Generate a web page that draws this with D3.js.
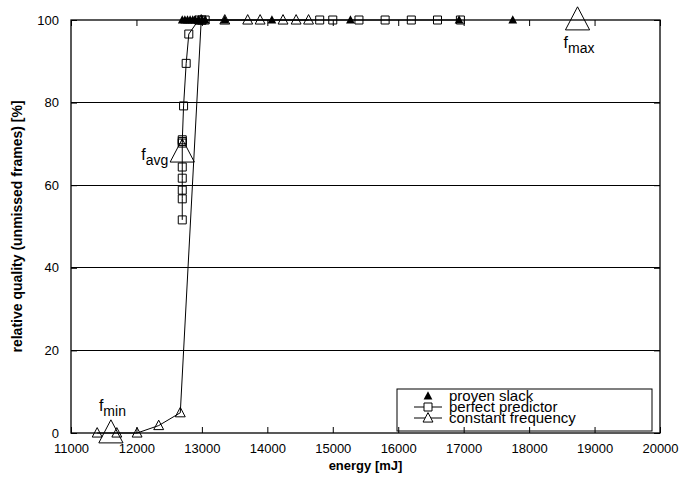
<!DOCTYPE html>
<html>
<head>
<meta charset="utf-8">
<script src="https://cdn.jsdelivr.net/npm/d3@7"></script>
<style>
  body { margin: 0; background: #fff; }
  text { font-family: "Liberation Sans", Arial, sans-serif; }
</style>
</head>
<body>
<div id="chart"></div>
<script>
// energy [mJ] / relative quality [%]
const provenSlackX = [12700, 12740, 12780, 12820, 12860, 12900, 12950, 13000, 13050, 13350, 14070, 15270, 16930, 17750];
const provenSlackY = [100, 100, 100, 100, 100, 100, 100, 100, 100, 100, 100, 100, 100, 100];

const perfectX = [12700, 12700, 12700, 12700, 12700, 12700, 12700, 12700, 12720, 12760, 12800, 12950, 13000, 13050, 14800, 15000, 15400, 15800, 16200, 16600, 16950];
const perfectY = [51.6, 56.7, 58.8, 61.7, 64.4, 70.2, 71, 70.6, 79.2, 89.5, 96.6, 100, 100, 100, 100, 100, 100, 100, 100, 100, 100];

const constantX = [11400, 11700, 12010, 12340, 12670, 12990, 13350, 13700, 13890, 14240, 14440, 14630];
const constantY = [0, 0, 0, 1.8, 4.9, 100, 100, 100, 100, 100, 100, 100];

const specialNames = ["min", "avg", "max"];
const specialX = [11610, 12700, 18740];
const specialY = [0, 68, 100];

const xTicks = [11000, 12000, 13000, 14000, 15000, 16000, 17000, 18000, 19000, 20000];
const yTicks = [0, 20, 40, 60, 80, 100];
const gridY = [20, 40, 60, 80];

const legendNames = ["proven slack", "perfect predictor", "constant frequency"];

const W = 689, H = 477;
const MARGIN = { TOP: 20, RIGHT: 29, BOTTOM: 44, LEFT: 71 };
const WIDTH = W - MARGIN.LEFT - MARGIN.RIGHT;
const HEIGHT = H - MARGIN.TOP - MARGIN.BOTTOM;

const svg = d3.select("#chart").append("svg")
  .attr("width", W).attr("height", H);

const g = svg.append("g")
  .attr("transform", `translate(${MARGIN.LEFT},${MARGIN.TOP})`);

const x = d3.scaleLinear().domain([11000, 20000]).range([0, WIDTH]);
const y = d3.scaleLinear().domain([0, 100]).range([HEIGHT, 0]);

// grid
g.selectAll(".grid").data(gridY).join("line")
  .attr("x1", 0).attr("x2", WIDTH)
  .attr("y1", d => y(d)).attr("y2", d => y(d))
  .attr("stroke", "#000").attr("stroke-width", 1).attr("shape-rendering", "crispEdges");

// axes (ticks point inward, mirrored)
function styleAxis(sel) {
  sel.select(".domain").remove();
  sel.selectAll(".tick line").attr("stroke", "#000");
  sel.selectAll(".tick text").attr("fill", "#000").style("font-size", "13px");
}
g.append("g").attr("transform", `translate(0,${HEIGHT})`)
  .call(d3.axisBottom(x).tickValues(xTicks).tickFormat(d3.format("d")).tickSizeInner(-6).tickPadding(11))
  .call(styleAxis);
g.append("g")
  .call(d3.axisTop(x).tickValues(xTicks).tickSizeInner(-6).tickFormat(""))
  .call(styleAxis);
g.append("g")
  .call(d3.axisLeft(y).tickValues(yTicks).tickSizeInner(-6).tickPadding(12))
  .call(styleAxis);
g.append("g").attr("transform", `translate(${WIDTH},0)`)
  .call(d3.axisRight(y).tickValues(yTicks).tickSizeInner(-6).tickFormat(""))
  .call(styleAxis);

// frame
g.append("rect").attr("width", WIDTH).attr("height", HEIGHT)
  .attr("fill", "none").attr("stroke", "#000").attr("stroke-width", 1.3);

// axis titles
svg.append("text").attr("x", MARGIN.LEFT + WIDTH / 2).attr("y", 470)
  .attr("text-anchor", "middle").style("font-size", "13px").style("font-weight", "bold")
  .text("energy [mJ]");
svg.append("text").attr("transform", `translate(22,${MARGIN.TOP + HEIGHT / 2}) rotate(-90)`)
  .attr("text-anchor", "middle").style("font-size", "14px").style("font-weight", "bold")
  .text("relative quality (unmissed frames) [%]");

const triPath = (s) => `M0,${-s * 0.6}L${s * 0.55},${s * 0.45}L${-s * 0.55},${s * 0.45}Z`;
const sqPath = (s) => `M${-s / 2},${-s / 2}h${s}v${s}h${-s}Z`;

const line = d3.line().x(d => x(d[0])).y(d => y(d[1]));

// perfect predictor
const perfect = perfectX.map((v, i) => [v, perfectY[i]]);
g.append("path").datum(perfect).attr("d", line)
  .attr("fill", "none").attr("stroke", "#000").attr("stroke-width", 1);
g.selectAll(".sq").data(perfect).join("path")
  .attr("transform", d => `translate(${x(d[0])},${y(d[1])})`)
  .attr("d", sqPath(8)).attr("fill", "none").attr("stroke", "#000").attr("stroke-width", 1);

// constant frequency
const constant = constantX.map((v, i) => [v, constantY[i]]);
g.append("path").datum(constant).attr("d", line)
  .attr("fill", "none").attr("stroke", "#000").attr("stroke-width", 1);
g.selectAll(".tri").data(constant).join("path")
  .attr("transform", d => `translate(${x(d[0])},${y(d[1])})`)
  .attr("d", triPath(9)).attr("fill", "none").attr("stroke", "#000").attr("stroke-width", 1);

// proven slack
const proven = provenSlackX.map((v, i) => [v, provenSlackY[i]]);
g.selectAll(".ftri").data(proven).join("path")
  .attr("transform", d => `translate(${x(d[0])},${y(d[1])})`)
  .attr("d", triPath(8)).attr("fill", "#000");

// f_min, f_avg, f_max
const special = specialX.map((v, i) => ({ x: v, y: specialY[i], name: specialNames[i] }));
g.selectAll(".big").data(special).join("path")
  .attr("transform", d => `translate(${x(d.x)},${y(d.y)})`)
  .attr("d", triPath(22)).attr("fill", "none").attr("stroke", "#000").attr("stroke-width", 1);
const labelOffset = { min: [-12, -22], avg: [-41, 8], max: [-14, 28] };
const lab = g.selectAll(".flab").data(special).join("text")
  .attr("x", d => x(d.x) + labelOffset[d.name][0])
  .attr("y", d => y(d.y) + labelOffset[d.name][1])
  .style("font-size", "16px");
lab.append("tspan").text("f");
lab.append("tspan").attr("dy", 5).style("font-size", "14px").text(d => d.name);

// legend
const lg = svg.append("g").attr("transform", "translate(397,389)");
lg.append("rect").attr("width", 255).attr("height", 42)
  .attr("fill", "none").attr("stroke", "#000").attr("stroke-width", 1);
const rows = [7, 18, 29];
lg.append("path").attr("transform", `translate(31,${rows[0]})`).attr("d", triPath(8)).attr("fill", "#000");
lg.append("line").attr("x1", 17).attr("x2", 45).attr("y1", rows[1]).attr("y2", rows[1]).attr("stroke", "#000");
lg.append("path").attr("transform", `translate(31,${rows[1]})`).attr("d", sqPath(8)).attr("fill", "#fff").attr("stroke", "#000");
lg.append("line").attr("x1", 17).attr("x2", 45).attr("y1", rows[2]).attr("y2", rows[2]).attr("stroke", "#000");
lg.append("path").attr("transform", `translate(31,${rows[2]})`).attr("d", triPath(9)).attr("fill", "#fff").attr("stroke", "#000");
lg.selectAll(".lt").data(legendNames).join("text")
  .attr("x", 52).attr("y", (d, i) => rows[i] + 5)
  .style("font-size", "15px").text(d => d);
</script>
</body>
</html>
